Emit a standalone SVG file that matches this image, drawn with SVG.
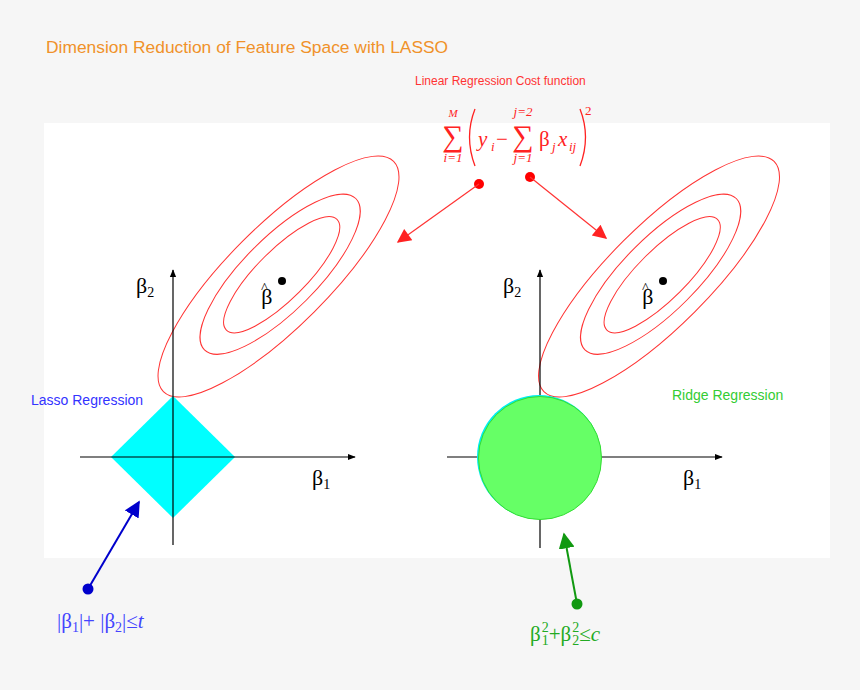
<svg xmlns="http://www.w3.org/2000/svg" width="860" height="690" viewBox="0 0 860 690">
<defs>
<style>
.sans{font-family:"Liberation Sans",Arial,sans-serif}
.ser{font-family:"Liberation Serif","Times New Roman",serif}
.it{font-style:italic}
.ell{fill:none;stroke:#ff3333;stroke-width:1}
.axis{stroke:#000;stroke-width:1.2;fill:none}
.rarr{stroke:#ff3333;stroke-width:1.2;fill:none}
</style>
<marker id="ah" viewBox="0 0 10 10" refX="9" refY="5" markerWidth="8" markerHeight="8" markerUnits="userSpaceOnUse" orient="auto"><path d="M0,1 L10,5 L0,9 Z" fill="#000"/></marker>
<marker id="rh" viewBox="0 0 10 10" refX="9" refY="5" markerWidth="16" markerHeight="14" markerUnits="userSpaceOnUse" orient="auto"><path d="M0,0 L10,5 L0,10 Z" fill="#ff2222"/></marker>
<marker id="bh" viewBox="0 0 10 10" refX="9" refY="5" markerWidth="8" markerHeight="8" orient="auto"><path d="M0,0 L10,5 L0,10 Z" fill="#0000cc"/></marker>
<marker id="gh" viewBox="0 0 10 10" refX="9" refY="5" markerWidth="8" markerHeight="8" orient="auto"><path d="M0,0 L10,5 L0,10 Z" fill="#119911"/></marker>
<g id="ellset">
<ellipse class="ell" cx="0" cy="0" rx="162.8" ry="50.3" transform="rotate(-45)"/>
<ellipse class="ell" cx="2.8" cy="-0.5" rx="107" ry="36.9" transform="rotate(-45)"/>
<ellipse class="ell" cx="3.5" cy="1" rx="78.2" ry="24.7" transform="rotate(-45)"/>
</g>
</defs>
<rect width="860" height="690" fill="#f6f6f6"/>
<rect x="44" y="123" width="786" height="435" fill="#ffffff"/>

<g id="title"><text class="sans" x="46" y="53" font-size="17.4" fill="#f0922a">Dimension Reduction of Feature Space with LASSO</text></g>
<g id="costlabel"><text class="sans" x="415" y="85" font-size="12" fill="#ff3333">Linear Regression Cost function</text></g>

<g id="formula" class="ser" fill="#ff2222">
<text x="453" y="117" font-size="11" class="it" text-anchor="middle">M</text>
<text x="453" y="146" font-size="30" text-anchor="middle">∑</text>
<text x="453" y="162" font-size="13" class="it" text-anchor="middle">i=1</text>
<path d="M475,109 Q464,137 475,166" fill="none" stroke="#ff2222" stroke-width="1.3"/>
<text x="478" y="146" font-size="21" class="it">y</text>
<text x="491" y="151" font-size="13" class="it">i</text>
<text x="496" y="146" font-size="21">−</text>
<text x="523" y="116" font-size="13" class="it" text-anchor="middle">j=2</text>
<text x="523" y="146" font-size="30" text-anchor="middle">∑</text>
<text x="523" y="162" font-size="13" class="it" text-anchor="middle">j=1</text>
<text x="539" y="146" font-size="21">β</text>
<text x="552" y="151" font-size="13" class="it">j</text>
<text x="558" y="146" font-size="21" class="it">x</text>
<text x="569" y="151" font-size="13" class="it">ij</text>
<path d="M580,109 Q591,137 580,166" fill="none" stroke="#ff2222" stroke-width="1.3"/>
<text x="585" y="115" font-size="13">2</text>
</g>

<g id="left-plot">
<use href="#ellset" transform="translate(278.5,276.5)"/>
<circle cx="282" cy="281" r="4" fill="#000"/>
<text class="ser" x="261" y="304" font-size="22">β<tspan font-size="15" dx="-11.5" dy="-11">^</tspan></text>
<polygon points="173,396 235,457 173,518 111,457" fill="#00ffff"/>
<line class="axis" x1="80" y1="457" x2="355" y2="457" marker-end="url(#ah)"/>
<line class="axis" x1="173" y1="545" x2="173" y2="270" marker-end="url(#ah)"/>
<text class="ser" x="136" y="293" font-size="22">β<tspan font-size="14" dy="4">2</tspan></text>
<text class="ser" x="312" y="485" font-size="22">β<tspan font-size="14" dy="4">1</tspan></text>
</g>

<g id="right-plot">
<use href="#ellset" transform="translate(659,276.5)"/>
<circle cx="663" cy="281" r="4" fill="#000"/>
<text class="ser" x="642" y="304" font-size="22">β<tspan font-size="15" dx="-11.5" dy="-11">^</tspan></text>
<line class="axis" x1="447" y1="457" x2="722" y2="457" marker-end="url(#ah)"/>
<line class="axis" x1="540" y1="548" x2="540" y2="270" marker-end="url(#ah)"/>
<circle cx="539" cy="457" r="62" fill="#00eeee"/>
<circle cx="540" cy="458" r="61.5" fill="#66ff66" stroke="#33dd33" stroke-width="1"/>
<text class="ser" x="503" y="293" font-size="22">β<tspan font-size="14" dy="4">2</tspan></text>
<text class="ser" x="683" y="485" font-size="22">β<tspan font-size="14" dy="4">1</tspan></text>
</g>

<g id="lasso-label"><text class="sans" x="31" y="405" font-size="14" fill="#3333ff">Lasso Regression</text></g>
<g id="ridge-label"><text class="sans" x="672" y="400" font-size="14" fill="#33cc33">Ridge Regression</text></g>

<g id="lasso-constraint"><text class="ser" x="57" y="628" font-size="21" fill="#4444ff">|β<tspan font-size="14" dy="4">1</tspan><tspan dy="-4">|+ |β</tspan><tspan font-size="14" dy="4">2</tspan><tspan dy="-4">|≤</tspan><tspan class="it">t</tspan></text></g>
<g id="ridge-constraint"><text class="ser" x="530" y="641" font-size="21" fill="#22aa22">β<tspan font-size="14" dx="1" dy="-9">2</tspan><tspan font-size="14" dx="-7" dy="13">1</tspan><tspan dy="-4">+β</tspan><tspan font-size="14" dx="1" dy="-9">2</tspan><tspan font-size="14" dx="-7" dy="13">2</tspan><tspan dy="-4">≤</tspan><tspan class="it">c</tspan></text></g>

<g id="connectors">
<circle cx="479" cy="184" r="5" fill="#ff0000"/>
<line class="rarr" x1="479" y1="184" x2="398" y2="242" marker-end="url(#rh)"/>
<circle cx="530" cy="177" r="5" fill="#ff0000"/>
<line class="rarr" x1="530" y1="177" x2="606" y2="238" marker-end="url(#rh)"/>
<circle cx="88" cy="589" r="5.5" fill="#0000cc"/>
<line x1="88" y1="589" x2="139" y2="502" stroke="#0000cc" stroke-width="2" marker-end="url(#bh)"/>
<circle cx="577" cy="604" r="5.5" fill="#119911"/>
<line x1="577" y1="604" x2="564" y2="534" stroke="#119911" stroke-width="2" marker-end="url(#gh)"/>
</g>
</svg>
